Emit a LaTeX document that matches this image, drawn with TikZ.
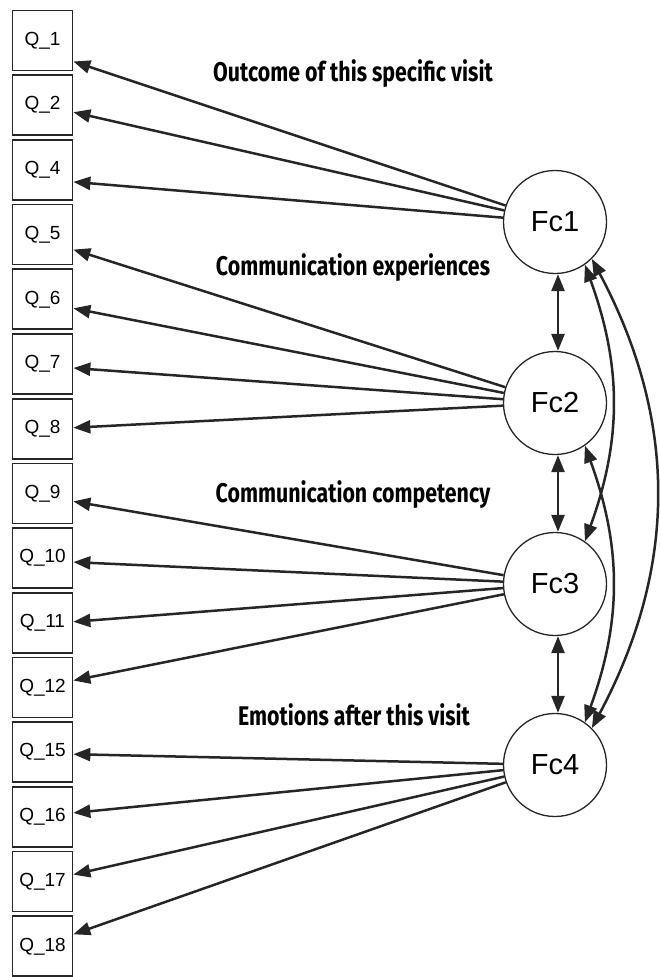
\documentclass[tikz,border=0pt]{standalone}
\usepackage{fontspec}
\setmainfont{Liberation Sans}
\newfontfamily\headfont[FakeStretch=0.79]{Fira Sans}
\usetikzlibrary{positioning,arrows.meta}
\definecolor{LineGray}{HTML}{262626}

\begin{document}
\begin{tikzpicture}[x=1pt,y=-1pt,node distance=3pt,>={Triangle[length=17pt,width=13pt]},
    qbox/.style={draw=LineGray,line width=1.7pt,minimum width=60pt,minimum height=60pt,inner sep=0pt,font=\fontsize{19}{20}\selectfont},
    fac/.style={circle,draw=LineGray,line width=1.3pt,minimum size=103pt,inner sep=0pt,font=\fontsize{29}{30}\selectfont},
    head/.style={inner sep=0pt,font=\headfont\bfseries\fontsize{27}{30}\selectfont},
    load/.style={line width=2.5pt,draw=LineGray,fill=LineGray}]
      \useasboundingbox (0,0) rectangle (660,977);
      % indicators
      \node[qbox] (q1) at (42.5,40.5) {Q\_1};
      \node[qbox,below=of q1] (q2) {Q\_2};
      \node[qbox,below=of q2] (q4) {Q\_4};
      \node[qbox,below=of q4] (q5) {Q\_5};
      \node[qbox,below=of q5] (q6) {Q\_6};
      \node[qbox,below=of q6] (q7) {Q\_7};
      \node[qbox,below=of q7] (q8) {Q\_8};
      \node[qbox,below=of q8] (q9) {Q\_9};
      \node[qbox,below=of q9] (q10) {Q\_10};
      \node[qbox,below=of q10] (q11) {Q\_11};
      \node[qbox,below=of q11] (q12) {Q\_12};
      \node[qbox,below=of q12] (q15) {Q\_15};
      \node[qbox,below=of q15] (q16) {Q\_16};
      \node[qbox,below=of q16] (q17) {Q\_17};
      \node[qbox,below=of q17] (q18) {Q\_18};
      % factors
      \node[fac] (fc1) at (555,222) {Fc1};
      \node[fac,below=76.7pt of fc1] (fc2) {Fc2};
      \node[fac,below=76.7pt of fc2] (fc3) {Fc3};
      \node[fac,below=76.7pt of fc3] (fc4) {Fc4};
      % headings
      \node[head] (h1) at (353,74) {Outcome of this specific visit};
      \node[head] (h2) at (353,268) {Communication experiences};
      \node[head] (h3) at (353,495) {Communication competency};
      \node[head] (h4) at (354,715) {Emotions after this visit};
      % loadings
      \draw[->,load] (fc1) -- ([yshift=-21pt]q1.east);
      \draw[->,load] (fc1) -- ([yshift=-7pt]q2.east);
      \draw[->,load] (fc1) -- ([yshift=-12pt]q4.east);
      \draw[->,load] (fc2) -- ([yshift=-15pt]q5.east);
      \draw[->,load] (fc2) -- ([yshift=-9pt]q6.east);
      \draw[->,load] (fc2) -- ([yshift=-4pt]q7.east);
      \draw[->,load] (fc2) -- ([yshift=1pt]q8.east);
      \draw[->,load] (fc3) -- ([yshift=-8pt]q9.east);
      \draw[->,load] (fc3) -- ([yshift=-4pt]q10.east);
      \draw[->,load] (fc3) -- ([yshift=1pt]q11.east);
      \draw[->,load] (fc3) -- ([yshift=7pt]q12.east);
      \draw[->,load] (fc4) -- ([yshift=-2pt]q15.east);
      \draw[->,load] (fc4) -- ([yshift=4pt]q16.east);
      \draw[->,load] (fc4) -- ([yshift=7pt]q17.east);
      \draw[->,load] (fc4) -- ([yshift=12pt]q18.east);
      % covariances
      \draw[<->,load] ([xshift=3pt]fc1.south) -- ([xshift=3pt]fc2.north);
      \draw[<->,load] ([xshift=3pt]fc2.south) -- ([xshift=3pt]fc3.north);
      \draw[<->,load] ([xshift=3pt]fc3.south) -- ([xshift=3pt]fc4.north);
      \draw[<->,load,fill=none] (fc1.-55) to[out=-70,in=70] (fc3.55);
      \draw[<->,load,fill=none] (fc2.-55) to[out=-70,in=70] (fc4.55);
      \draw[<->,load,fill=none] (fc1.-45) to[out=-62,in=62] (fc4.45);
    \end{tikzpicture}
\end{document}
